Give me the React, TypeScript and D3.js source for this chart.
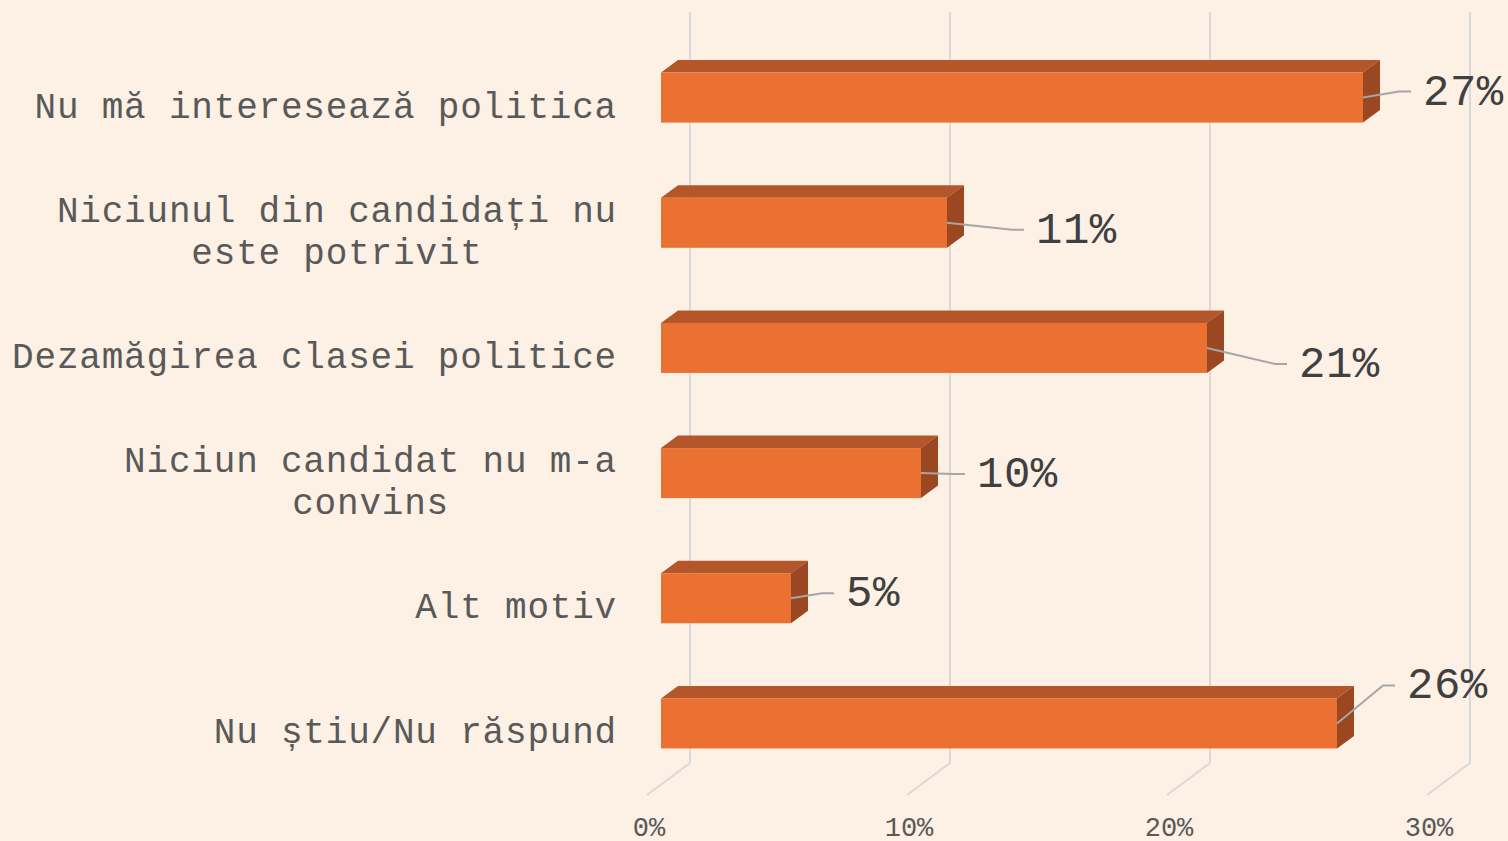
import React from "react";
import * as d3 from "d3";

const categories: string[][] = [
  ["Nu mă interesează politica"],
  ["Niciunul din candidați nu", "este potrivit"],
  ["Dezamăgirea clasei politice"],
  ["Niciun candidat nu m-a", "convins"],
  ["Alt motiv"],
  ["Nu știu/Nu răspund"],
];
const values: number[] = [27, 11, 21, 10, 5, 26];
const valueLabels: string[] = ["27%", "11%", "21%", "10%", "5%", "26%"];
const tickValues: number[] = [0, 10, 20, 30];
const tickLabels: string[] = ["0%", "10%", "20%", "30%"];
// manual label placement (text start dx from bar end, baseline dy from bar centre)
const labelOffsets: [number, number][] = [
  [60, 7],
  [89, 20],
  [92, 29],
  [56, 14],
  [55, 8],
  [70, -25],
];

const W = 1508;
const H = 841;
const BG = "#FCF1E4";
const FRONT = "#EA7132";
const TOP = "#B3562A";
const SIDE = "#9B4721";
const GRID = "#D9D9D9";

const backLeft = 690;
const backRight = 1470;
const backTop = 12;
const backBottom = 763;
const depth = { dx: -43, dy: 32 };
const barFrontShift = { dx: -29, dy: 23 };
const barDepth = { dx: 17, dy: -12.5 };

export default function App() {
  const xBack = d3.scaleLinear().domain([0, 30]).range([backLeft, backRight]);
  const y = d3
    .scaleBand<number>()
    .domain(d3.range(categories.length))
    .range([backTop, backBottom])
    .paddingInner(0.6)
    .paddingOuter(0.3);

  const fx = (v: number) => xBack(v) + barFrontShift.dx;
  const catFont = "'Courier New', 'Liberation Mono', monospace";

  return (
    <svg
      width={W}
      height={H}
      style={{ position: "fixed", left: 0, top: 0, display: "block" }}
    >
      <rect x={0} y={0} width={W} height={H} fill={BG} />
      {/* gridlines on back wall + floor */}
      {tickValues.map((t, i) => {
        const x = xBack(t);
        return (
          <g key={"g" + i}>
            <line x1={x} x2={x} y1={backTop} y2={backBottom} stroke={GRID} strokeWidth={2} />
            <line
              x1={x}
              y1={backBottom}
              x2={x + depth.dx}
              y2={backBottom + depth.dy}
              stroke={GRID}
              strokeWidth={2}
            />
            <text
              x={x + depth.dx + 2}
              y={836}
              textAnchor="middle"
              fontFamily={catFont}
              fontSize={27}
              fill="#595959"
            >
              {tickLabels[i]}
            </text>
          </g>
        );
      })}
      {/* bars */}
      {values.map((v, i) => {
        const yT = (y(i) as number) + barFrontShift.dy;
        const h = y.bandwidth();
        const yB = yT + h;
        const x0 = fx(0);
        const x1 = fx(v);
        const top = [
          [x0, yT],
          [x1, yT],
          [x1 + barDepth.dx, yT + barDepth.dy],
          [x0 + barDepth.dx, yT + barDepth.dy],
        ];
        const side = [
          [x1, yT],
          [x1 + barDepth.dx, yT + barDepth.dy],
          [x1 + barDepth.dx, yB + barDepth.dy],
          [x1, yB],
        ];
        return (
          <g key={"b" + i}>
            <polygon points={top.map((p) => p.join(",")).join(" ")} fill={TOP} />
            <polygon points={side.map((p) => p.join(",")).join(" ")} fill={SIDE} />
            <rect x={x0} y={yT} width={x1 - x0} height={h} fill={FRONT} />
          </g>
        );
      })}
      {/* category labels */}
      {categories.map((lines, i) => {
        const cy = (y(i) as number) + barFrontShift.dy + y.bandwidth() / 2;
        const lh = 42;
        const first = lines.length === 1 ? cy + 20 : cy - 1;
        return (
          <text
            key={"c" + i}
            textAnchor="end"
            fontFamily={catFont}
            fontSize={36}
            letterSpacing={0.8}
            fill="#595959"
          >
            {lines.map((ln, j) => (
              <tspan key={j} x={lines.length > 1 && j > 0 ? 617 - (lines[0].length * 22.4 - ln.length * 22.4) / 2 : 617} y={first + j * lh}>
                {ln}
              </tspan>
            ))}
          </text>
        );
      })}
      {/* data labels with leader lines */}
      {values.map((v, i) => {
        const cy = (y(i) as number) + barFrontShift.dy + y.bandwidth() / 2;
        const ax = fx(v);
        const [dx, dy] = labelOffsets[i];
        const tx = ax + dx;
        const ty = cy + dy;
        const ly = ty - 13;
        const path = `M${ax},${cy}L${tx - 24},${ly}L${tx - 12},${ly}`;
        return (
          <g key={"l" + i}>
            <path d={path} fill="none" stroke="#A6A6A6" strokeWidth={2} />
            <text
              x={tx}
              y={ty}
              fontFamily={catFont}
              fontSize={44}
              letterSpacing={0.5}
              fill="#404040"
            >
              {valueLabels[i]}
            </text>
          </g>
        );
      })}
    </svg>
  );
}
